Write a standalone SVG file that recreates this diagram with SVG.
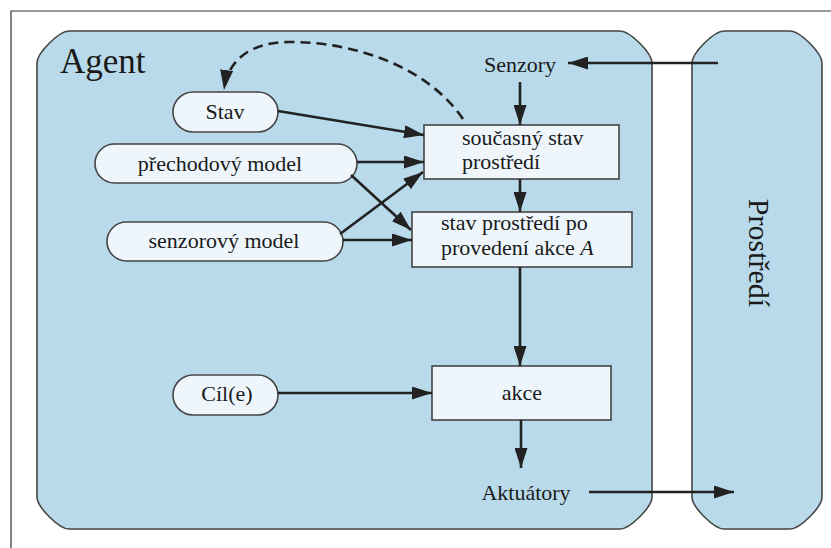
<svg xmlns="http://www.w3.org/2000/svg" width="831" height="548" viewBox="0 0 831 548">
<defs>
<style>
.frame{fill:none;stroke:#333;stroke-width:1.2}
.region{fill:#B9DAEA;stroke:#444;stroke-width:1.6}
.node{fill:#EEF6FC;stroke:#444;stroke-width:1.6}
.t{font-family:"Liberation Serif","Times New Roman",serif;font-size:22px;fill:#1a1a1a}
.c{text-anchor:middle}
.e{fill:none;stroke:#222;stroke-width:2.6}
.d{fill:none;stroke:#222;stroke-width:2.6;stroke-dasharray:10 6}
</style>
<marker id="ah" viewBox="0 0 20 13" refX="20" refY="6.5" markerWidth="20" markerHeight="13" markerUnits="userSpaceOnUse" orient="auto">
<path d="M0,0 L20,6.5 L0,13 Z" fill="#222"/>
</marker>
</defs>
<rect width="831" height="548" fill="#fff"/>
<path class="frame" d="M11,548 L11,11 L831,11"/>

<g id="agent">
<path class="region" d="M69,31 L620,31 C630,31 652,53 652,63 L652,497 C652,507 630,529 620,529 L69,529 C59,529 37,507 37,497 L37,63 C37,53 59,31 69,31 Z"/>
<text class="t" x="60" y="73" style="font-size:35px">Agent</text>
</g>

<g id="prostredi">
<path class="region" d="M724,31 L790,31 C800,31 822,53 822,63 L822,497 C822,507 800,529 790,529 L724,529 C714,529 692,507 692,497 L692,63 C692,53 714,31 724,31 Z"/>
<text class="t c" transform="translate(749,253) rotate(90)" style="font-size:30px">Prostředí</text>
</g>

<g id="senzory">
<text class="t c" x="520" y="72">Senzory</text>
</g>

<g id="aktuatory">
<text class="t c" x="526" y="500">Aktuátory</text>
</g>

<g id="stav">
<rect class="node" x="173" y="92" width="105" height="40" rx="20"/>
<text class="t c" x="225" y="119">Stav</text>
</g>

<g id="prechodovy-model">
<rect class="node" x="95" y="144" width="262" height="39" rx="19.5"/>
<text class="t c" x="220" y="171">přechodový model</text>
</g>

<g id="senzorovy-model">
<rect class="node" x="107" y="222" width="236" height="39" rx="19.5"/>
<text class="t c" x="224" y="248">senzorový model</text>
</g>

<g id="soucasny-stav">
<rect class="node" x="424" y="125" width="195" height="54"/>
<text class="t" x="462" y="145">současný stav</text>
<text class="t" x="462" y="169">prostředí</text>
</g>

<g id="stav-po-akci">
<rect class="node" x="412" y="212" width="220" height="55"/>
<text class="t" x="441" y="230">stav prostředí po</text>
<text class="t" x="441" y="255">provedení akce <tspan font-style="italic">A</tspan></text>
</g>

<g id="cil">
<rect class="node" x="173" y="375" width="105" height="40" rx="20"/>
<text class="t c" x="227" y="401">Cíl(e)</text>
</g>

<g id="akce">
<rect class="node" x="432" y="366" width="179" height="54"/>
<text class="t c" x="522" y="400">akce</text>
</g>

<g id="connectors">
<path class="e" marker-end="url(#ah)" d="M718,63 L568,63"/>
<path class="e" marker-end="url(#ah)" d="M520,82 L520,125"/>
<path class="e" marker-end="url(#ah)" d="M520,179 L520,212"/>
<path class="e" marker-end="url(#ah)" d="M520,267 L520,366"/>
<path class="e" marker-end="url(#ah)" d="M521,420 L521,468"/>
<path class="e" marker-end="url(#ah)" d="M589,492 L734,492"/>
<path class="e" marker-end="url(#ah)" d="M278,393 L432,393"/>
<path class="e" marker-end="url(#ah)" d="M278,111 L424,135"/>
<path class="e" marker-end="url(#ah)" d="M357,162 L424,162"/>
<path class="e" marker-end="url(#ah)" d="M351,175 L411,230"/>
<path class="e" marker-end="url(#ah)" d="M340,234 L423,172"/>
<path class="e" marker-end="url(#ah)" d="M343,240 L412,240"/>
<path class="d" marker-end="url(#ah)" d="M463,119 C430,70 360,42 290,42 C250,42 228,60 224,90"/>
</g>
</svg>
